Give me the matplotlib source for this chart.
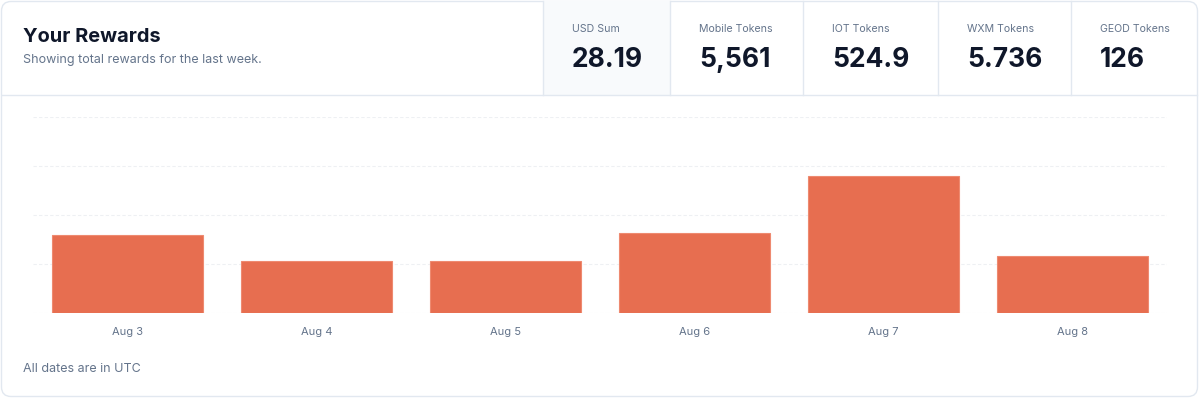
import matplotlib
matplotlib.use("Agg")
import matplotlib.pyplot as plt
from matplotlib.patches import FancyBboxPatch, Rectangle

plt.rcParams['font.family'] = ['Inter', 'DejaVu Sans']

# ---- data ----
dates = ["Aug 3", "Aug 4", "Aug 5", "Aug 6", "Aug 7", "Aug 8"]
usd_rewards = [4.78, 3.19, 3.19, 4.90, 8.39, 3.49]
stat_labels = ["USD Sum", "Mobile Tokens", "IOT Tokens", "WXM Tokens", "GEOD Tokens"]
stat_values = ["28.19", "5,561", "524.9", "5.736", "126"]
y_ticks = [0, 3, 6, 9, 12]

W, H = 1200, 398
fig = plt.figure(figsize=(W / 100, H / 100), dpi=100)
fig.patch.set_facecolor("white")

def fx(x):
    return x / W

def fy(y):
    return 1 - y / H

border = "#e2e8f0"

# card
card = FancyBboxPatch((fx(1.5), fy(396.5)), fx(1196), (395 / H), boxstyle="round,pad=0,rounding_size=0.008",
                      transform=fig.transFigure, facecolor="white", edgecolor=border, linewidth=1.0,
                      mutation_aspect=W / H, zorder=-3)
fig.patches.append(card)

# highlighted USD box
fig.patches.append(Rectangle((fx(543), fy(95)), fx(670 - 543), 94 / H, transform=fig.transFigure,
                             facecolor="#f8fafc", edgecolor="none", zorder=-2))
# header divider
fig.add_artist(plt.Line2D([fx(2), fx(1197)], [fy(95), fy(95)], transform=fig.transFigure,
                          color=border, linewidth=1.0, zorder=-1))
# stat box dividers
box_edges = [543, 670, 803, 938, 1071]
for xe in box_edges:
    fig.add_artist(plt.Line2D([fx(xe), fx(xe)], [fy(1), fy(95)], transform=fig.transFigure,
                              color=border, linewidth=1.0, zorder=-1))

# header text
fig.text(fx(23), fy(37), "Your Rewards", fontsize=14.4, fontweight="bold", color="#0f172a",
         va="center", ha="left")
fig.text(fx(23), fy(60), "Showing total rewards for the last week.", fontsize=9.0, color="#64748b",
         va="center", ha="left")

for xe, lab, val in zip(box_edges, stat_labels, stat_values):
    fig.text(fx(xe + 29), fy(29), lab, fontsize=7.6, color="#64748b", va="center", ha="left")
    fig.text(fx(xe + 29), fy(57), val, fontsize=19, fontweight="bold", color="#0f172a",
             va="center_baseline", ha="left")

# chart axes
ax = fig.add_axes([fx(33), fy(313), fx(1167 - 33), (313 - 117) / H], zorder=5)
x = list(range(len(dates)))
ax.bar(x, usd_rewards, width=0.8, color="#e76e50", edgecolor="#ee8a70", linewidth=0.8, zorder=3)
ax.set_xlim(-0.5, len(dates) - 0.5)
ax.set_ylim(y_ticks[0], y_ticks[-1])
ax.set_yticks(y_ticks)
ax.yaxis.grid(True, color="#eef0f3", linestyle=(0, (3, 2)), linewidth=0.8, zorder=0)
ax.set_axisbelow(True)
ax.tick_params(axis="y", left=False, labelleft=False)
ax.tick_params(axis="x", length=0, pad=10, labelsize=8.0, labelcolor="#64748b")
ax.set_xticks(x)
ax.set_xticklabels(dates)
for s in ax.spines.values():
    s.set_visible(False)
ax.patch.set_alpha(0)

fig.text(fx(23), fy(369), "All dates are in UTC", fontsize=9.0, color="#64748b", va="center", ha="left")

fig.savefig("out.png", dpi=100, facecolor="white")
